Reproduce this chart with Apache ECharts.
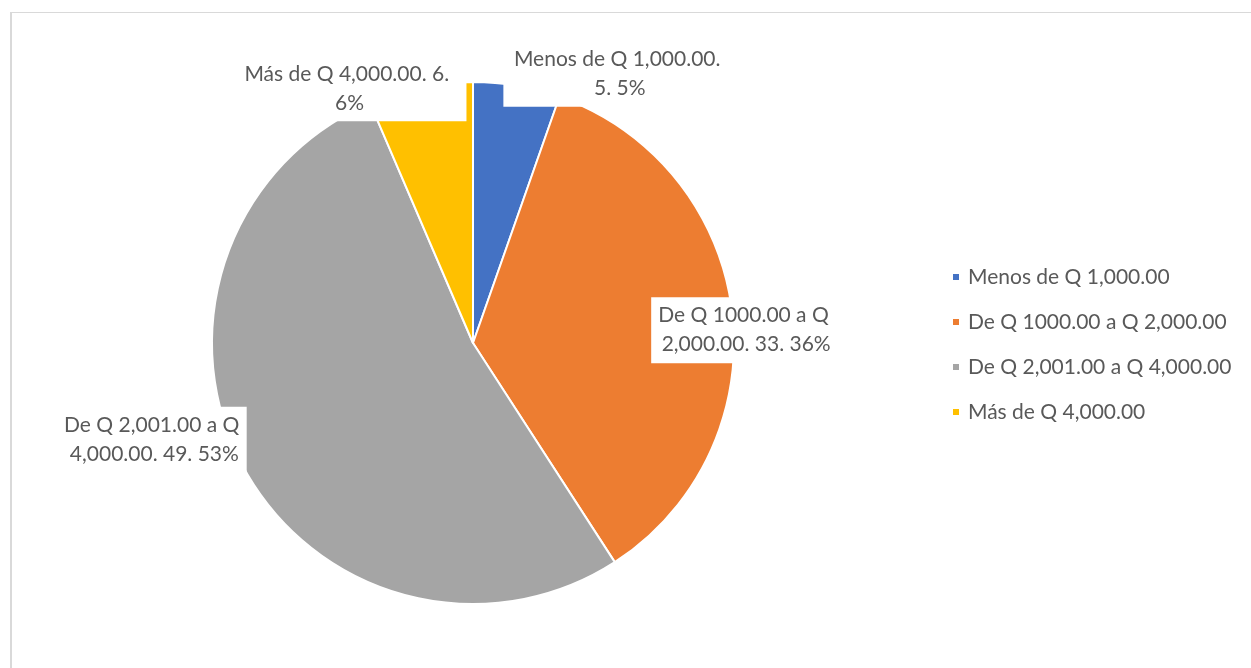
<!DOCTYPE html>
<html>
<head>
<meta charset="utf-8">
<script src="https://cdn.jsdelivr.net/npm/echarts@6/dist/echarts.min.js"></script>
<style>
  html, body { margin: 0; padding: 0; background: #fff; }
  #frame {
    position: absolute; left: 10px; top: 12px; right: 0; bottom: 0;
    border-top: 1px solid #d9d9d9; border-left: 2px solid #d9d9d9;
  }
  #chart { position: absolute; left: 0; top: 0; width: 1251px; height: 668px; }
</style>
</head>
<body>
<div id="frame"></div>
<div id="chart"></div>
<script>
// rangos de ingreso y conteo de respuestas
const categories = [
  'Menos de Q 1,000.00',
  'De Q 1000.00 a Q 2,000.00',
  'De Q 2,001.00 a Q 4,000.00',
  'Más de Q 4,000.00'
]
const counts = [5, 33, 49, 6]

const colors = ['#4472C4', '#ED7D31', '#A5A5A5', '#FFC000']
// label box width and shift from the outside anchor, per slice
const labelWidths = [221, 178, 178, 222]
const labelShift = [[98, -12], [9, 18], [-86, -26], [-66, 1]]

const chart = echarts.init(document.getElementById('chart'))

chart.setOption({
  animation: false,
  color: colors,
  textStyle: { fontFamily: 'Lato' },
  legend: {
    orient: 'vertical',
    left: 951,
    top: 265,
    padding: 0,
    itemWidth: 8,
    itemHeight: 8,
    itemGap: 21,
    icon: 'rect',
    data: categories,
    textStyle: {
      fontFamily: 'Lato',
      fontSize: 21,
      lineHeight: 24,
      color: '#595959',
      padding: [0, 0, 0, 3]
    }
  },
  series: [
    {
      type: 'pie',
      center: [473, 343],
      radius: 261,
      startAngle: 90,
      clockwise: true,
      percentPrecision: 0,
      avoidLabelOverlap: false,
      itemStyle: { borderColor: '#fff', borderWidth: 2 },
      labelLine: { show: false, length: 0, length2: 0 },
      label: {
        position: 'outside',
        fontFamily: 'Lato',
        fontSize: 21,
        lineHeight: 29,
        color: '#595959',
        backgroundColor: '#fff',
        padding: [4, 6],
        overflow: 'break',
        formatter: p => p.name + '. ' + p.value + '. ' + p.percent + '%'
      },
      labelLayout: p => ({
        align: 'center',
        dx: labelShift[p.dataIndex][0],
        dy: labelShift[p.dataIndex][1]
      }),
      data: categories.map((name, i) => ({
        name: name,
        value: counts[i],
        label: { width: labelWidths[i] }
      }))
    }
  ]
})
</script>
</body>
</html>
